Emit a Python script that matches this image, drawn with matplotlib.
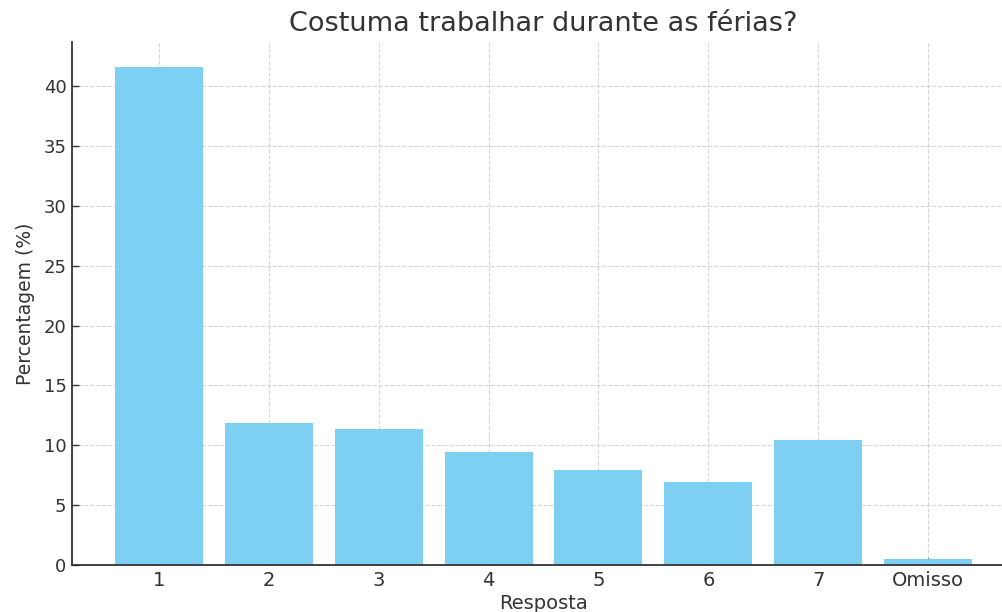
import numpy as np
import matplotlib
matplotlib.use('Agg')
import matplotlib.pyplot as plt

respostas = ['1', '2', '3', '4', '5', '6', '7', 'Omisso']
percentagens = [41.6, 11.9, 11.4, 9.4, 7.9, 6.9, 10.4, 0.5]

plt.rcParams['font.family'] = ['DejaVu Sans']
plt.rcParams['text.color'] = '#333333'
plt.rcParams['axes.labelcolor'] = '#333333'
plt.rcParams['xtick.color'] = '#333333'
plt.rcParams['ytick.color'] = '#333333'

fig = plt.figure(figsize=(10.03, 6.12), dpi=100)
# axes runs a little past the right edge, like the cropped original
ax = fig.add_axes([72 / 1003, 1 - 565 / 612, (1015 - 72) / 1003, (565 - 42) / 612])

x = np.arange(len(respostas))
ax.bar(x, percentagens, width=0.8, color='#7dd0f2', zorder=2)
ax.set_xticks(x)
ax.set_xticklabels(respostas)
ax.set_xlim(-0.79, 7.79)
ax.set_ylim(0, max(percentagens) * 1.05)

ax.grid(True, linestyle='--', color='#cccccc', linewidth=0.8, alpha=0.8, zorder=3)
for s in ['top', 'right']:
    ax.spines[s].set_visible(False)
for s in ['left', 'bottom']:
    ax.spines[s].set_color('#333333')
    ax.spines[s].set_linewidth(1.3)

ax.tick_params(axis='both', direction='in', length=5, width=1, pad=4)
ax.tick_params(axis='x', labelsize=14)
ax.tick_params(axis='y', labelsize=13)
ax.set_xlabel('Resposta', fontsize=14, labelpad=3)
ax.set_ylabel('Percentagem (%)', fontsize=13.5, labelpad=6)
ax.set_title('Costuma trabalhar durante as férias?', fontsize=19.5, pad=8)

fig.savefig('out.png', dpi=100)
